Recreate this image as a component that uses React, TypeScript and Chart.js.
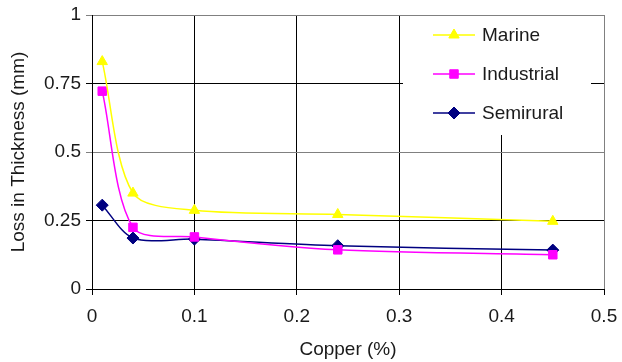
import { useEffect, useRef } from 'react';
import { Chart, registerables } from 'chart.js';
import { drawPoint } from 'chart.js/helpers';

Chart.register(...registerables);

const copper = [0.01, 0.04, 0.1, 0.24, 0.45];
const marine = [0.83, 0.35, 0.287, 0.272, 0.247];
const industrial = [0.722, 0.225, 0.19, 0.143, 0.125];
const semirural = [0.306, 0.186, 0.182, 0.158, 0.142];
const seriesNames = ['Marine', 'Industrial', 'Semirural'];
const seriesColors = ['#FFFF00', '#FF00FF', '#000080'];
const seriesMarkers = ['triangle', 'rect', 'rectRot'];
const xTitle = 'Copper (%)';
const yTitle = 'Loss in Thickness (mm)';

const FONT = "'Liberation Sans', Arial, sans-serif";
const FS = 19;

const legendPlugin = {
  id: 'insideLegend',
  beforeDatasetsDraw(chart: any) {
    const { ctx, chartArea } = chart;
    ctx.save();
    ctx.fillStyle = '#ffffff';
    ctx.fillRect(chartArea.right - 201, chartArea.top + 1, 188, 119);
    ctx.restore();
  },
  afterDatasetsDraw(chart: any) {
    const { ctx, chartArea } = chart;
    ctx.save();
    const x0 = chartArea.right - 171;
    chart.data.datasets.forEach((ds: any, i: number) => {
      const y = chartArea.top + 20 + i * 39;
      ctx.strokeStyle = ds.borderColor;
      ctx.lineWidth = 1.5;
      ctx.beginPath();
      ctx.moveTo(x0, y);
      ctx.lineTo(x0 + 42, y);
      ctx.stroke();
      ctx.fillStyle = ds.backgroundColor;
      ctx.strokeStyle = ds.borderColor;
      ctx.lineWidth = 1;
      drawPoint(ctx, { pointStyle: ds.pointStyle, radius: ds.pointRadius, borderWidth: 1, rotation: 0 }, x0 + 21, y);
      ctx.fillStyle = '#1a1a1a';
      ctx.font = `${FS}px ${FONT}`;
      ctx.textBaseline = 'middle';
      ctx.textAlign = 'left';
      ctx.fillText(ds.label, x0 + 49, y + 1);
    });
    ctx.restore();
  },
};

export default function App() {
  const ref = useRef<HTMLCanvasElement>(null);
  useEffect(() => {
    if (!ref.current) return;
    const series = [marine, industrial, semirural];
    const chart = new Chart(ref.current, {
      type: 'line',
      data: {
        datasets: series.map((vals, i) => ({
          label: seriesNames[i],
          data: copper.map((x, j) => ({ x, y: vals[j] })),
          borderColor: seriesColors[i],
          backgroundColor: seriesColors[i],
          pointStyle: seriesMarkers[i] as any,
          pointRadius: 6,
          pointBorderWidth: 1,
          borderWidth: 1.5,
          tension: 0.3,
          fill: false,
        })),
      },
      options: {
        animation: false,
        responsive: false,
        maintainAspectRatio: false,
        layout: { padding: { left: 0, right: 18, top: 15, bottom: 0 } },
        plugins: { legend: { display: false }, tooltip: { enabled: false } },
        scales: {
          x: {
            type: 'linear',
            min: 0,
            max: 0.5,
            ticks: {
              stepSize: 0.1,
              color: '#1a1a1a',
              font: { size: FS, family: FONT },
              padding: 10,
              maxRotation: 0,
              callback: (v: any) => String(Math.round(Number(v) * 10) / 10),
            },
            grid: {
              color: (c: any) => (c.tick && Math.abs(c.tick.value - 0.5) < 1e-6 ? '#808080' : '#000'),
              tickColor: '#000',
              tickLength: 6,
              lineWidth: 1,
            },
            border: { color: '#000', width: 1 },
            title: {
              display: true,
              text: xTitle,
              color: '#1a1a1a',
              font: { size: FS, family: FONT },
              padding: { top: 2, bottom: 1 },
            },
            afterFit: (s: any) => {
              s.height = 73;
              s.paddingLeft = 0;
              s.paddingRight = 0;
            },
          },
          y: {
            type: 'linear',
            min: 0,
            max: 1,
            ticks: {
              stepSize: 0.25,
              color: '#1a1a1a',
              font: { size: FS, family: FONT },
              padding: 5,
              callback: (v: any) => String(Math.round(Number(v) * 100) / 100),
            },
            grid: {
              color: (c: any) => {
                const v = c.tick ? c.tick.value : 0;
                return Math.abs(v - 0.5) < 1e-6 || Math.abs(v - 1) < 1e-6 ? '#808080' : '#000';
              },
              tickLength: 6,
              lineWidth: 1,
            },
            border: { color: '#000', width: 1 },
            title: {
              display: true,
              text: yTitle,
              color: '#1a1a1a',
              font: { size: FS, family: FONT },
              padding: { top: 7, bottom: 2 },
            },
            afterFit: (s: any) => {
              s.width = 92;
              s.paddingTop = 0;
              s.paddingBottom = 0;
            },
          },
        },
      },
      plugins: [legendPlugin],
    });
    return () => chart.destroy();
  }, []);
  return (
    <div style={{ position: 'fixed', left: 0, top: 0, width: 622, height: 362, background: '#fff' }}>
      <canvas ref={ref} width={622} height={362} style={{ width: 622, height: 362 }} />
    </div>
  );
}
